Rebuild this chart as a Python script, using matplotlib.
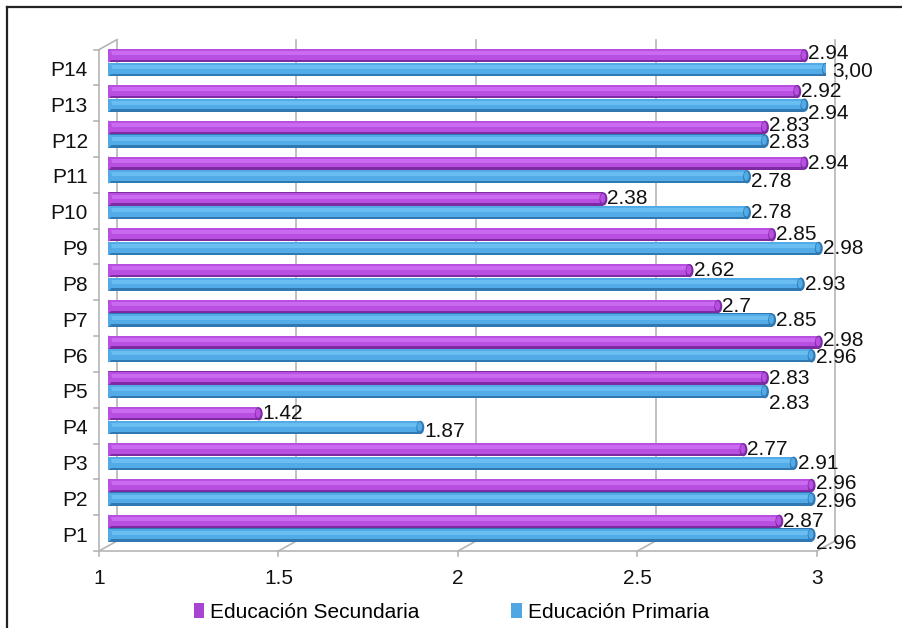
import matplotlib
matplotlib.use("Agg")
import matplotlib.pyplot as plt
from matplotlib.transforms import offset_copy
from matplotlib.patches import Patch, Ellipse
from matplotlib.lines import Line2D

categories = ["P1", "P2", "P3", "P4", "P5", "P6", "P7", "P8", "P9", "P10", "P11", "P12", "P13", "P14"]
secundaria = [2.87, 2.96, 2.77, 1.42, 2.83, 2.98, 2.70, 2.62, 2.85, 2.38, 2.94, 2.83, 2.92, 2.94]
primaria = [2.96, 2.96, 2.91, 1.87, 2.83, 2.96, 2.85, 2.93, 2.98, 2.78, 2.78, 2.83, 2.94, 3.00]
sec_labels = ["2.87", "2.96", "2.77", "1.42", "2.83", "2.98", "2.7", "2.62", "2.85", "2.38", "2.94", "2.83", "2.92", "2.94"]
pri_labels = ["2.96", "2.96", "2.91", "1.87", "2.83", "2.96", "2.85", "2.93", "2.98", "2.78", "2.78", "2.83", "2.94", "3,00"]
xticks = [1, 1.5, 2, 2.5, 3]
xticklabels = ["1", "1.5", "2", "2.5", "3"]
series_names = ["Educación Secundaria", "Educación Primaria"]

# label vertical nudges in pixels (style only), mimicking the original placement
sec_nudge = [0, 2, 0, 0, 0, 2, 0, 0, 0, 0, 0, 2, 0, 2]
pri_nudge = [-9, -2, 0, -4, -12, -2, 0, 0, 0, 0, -5, -2, -8, -2]
pri_xnudge = [4, 4, 4, 4, 4, 4, 4, 4, 4, 4, 4, 4, 4, 6]

plt.rcParams['font.family'] = ['Liberation Sans', 'DejaVu Sans']
FS = 15

W, H = 903, 628
fig = plt.figure(figsize=(W / 100, H / 100), dpi=100)
ax = fig.add_axes([108 / W, 1 - 546 / H, 718 / W, (546 - 44.6) / H])
ax.set_xlim(1, 3)
ax.set_ylim(-0.5, 13.5)
ax.axis('off')

back = offset_copy(ax.transData, fig=fig, x=9, y=5, units='dots')
front = offset_copy(ax.transData, fig=fig, x=-9, y=-5, units='dots')
grid_c = "#b5b5b5"

# back wall grid lines
for v in xticks:
    ax.plot([v, v], [-0.5, 13.5], color=grid_c, lw=1.2, transform=back, clip_on=False, zorder=0)
# floor
ax.plot([1, 3], [-0.5, -0.5], color=grid_c, lw=1.2, transform=front, clip_on=False, zorder=0)
for v, tl in zip(xticks, xticklabels):
    x0, y0 = front.transform((v, -0.5))
    x1, y1 = back.transform((v, -0.5))
    fig.add_artist(Line2D([x0 / W, x1 / W], [y0 / H, y1 / H], color=grid_c, lw=1.2, zorder=0))
    fig.add_artist(Line2D([x0 / W, x0 / W], [y0 / H, (y0 - 5) / H], color=grid_c, lw=1.2, zorder=0))
    fig.text(x0 / W, (y0 - 28) / H, tl, ha='center', va='center', fontsize=FS, color='#111111')
# left wall
ax.plot([1, 1], [-0.5, 13.5], color=grid_c, lw=1.2, transform=front, clip_on=False, zorder=0)
xa, ya = front.transform((1, 13.5))
xb, yb = back.transform((1, 13.5))
fig.add_artist(Line2D([xa / W, xb / W], [ya / H, yb / H], color=grid_c, lw=1.2, zorder=0))
for k in range(len(categories) + 1):
    yy = k - 0.5
    x0, y0 = front.transform((1, yy))
    fig.add_artist(Line2D([x0 / W, (x0 - 5) / W], [y0 / H, y0 / H], color=grid_c, lw=1.2, zorder=0))

# category labels
for i, c in enumerate(categories):
    x0, y0 = front.transform((1, i))
    fig.text((x0 - 11) / W, (y0 - 3) / H, c, ha='right', va='center', fontsize=FS, color='#111111')

# bars drawn as cylinders
ypos = list(range(len(categories)))
bh = 0.37
off = 0.19
styles = [
    (secundaria, sec_labels, sec_nudge, [4] * len(categories), +off, ["#7d2aa3", "#b84fe0", "#c96af1"]),
    (primaria, pri_labels, pri_nudge, pri_xnudge, -off, ["#2f78b2", "#52aae6", "#6abdf1"]),
]
for vals, labs, nudges, xnudges, o, cols in styles:
    yc = [y + o for y in ypos]
    lengths = [v - 1 for v in vals]
    ax.barh(yc, lengths, left=1, height=bh, color=cols[0], zorder=2)
    ax.barh([y + bh * 0.08 for y in yc], lengths, left=1, height=bh * 0.8, color=cols[1], zorder=3)
    ax.barh([y + bh * 0.18 for y in yc], lengths, left=1, height=bh * 0.3, color=cols[2], zorder=4)
    for y, v, lab, nd, xn in zip(yc, vals, labs, nudges, xnudges):
        ax.add_patch(Ellipse((1, y), 0.022, bh, facecolor=cols[1], edgecolor='none', zorder=4))
        ax.add_patch(Ellipse((v, y), 0.022, bh, facecolor=cols[0], edgecolor='none', zorder=5))
        ax.add_patch(Ellipse((v - 0.002, y + bh * 0.05), 0.014, bh * 0.7, facecolor=cols[1],
                             edgecolor='none', zorder=6))
        ax.text(v, y, lab, transform=offset_copy(ax.transData, fig=fig, x=xn, y=nd, units='dots'),
                ha='left', va='center', fontsize=FS, color='#111111', zorder=7)

# legend
handles = [Patch(facecolor="#a843d3", edgecolor='none'), Patch(facecolor="#4ea6e3", edgecolor='none')]
fig.legend(handles, series_names, loc='center', bbox_to_anchor=(0.5, 1 - 612 / H), ncol=2,
           frameon=False, fontsize=FS, handlelength=0.5, handleheight=0.7, handletextpad=0.3,
           columnspacing=4.4)

# outer frame (top and left)
fig.add_artist(Line2D([7 / W, 1.0], [1 - 7 / H, 1 - 7 / H], color='#222222', lw=1.6))
fig.add_artist(Line2D([7 / W, 7 / W], [0, 1 - 7 / H], color='#222222', lw=1.6))

fig.savefig("out.png", dpi=100)
